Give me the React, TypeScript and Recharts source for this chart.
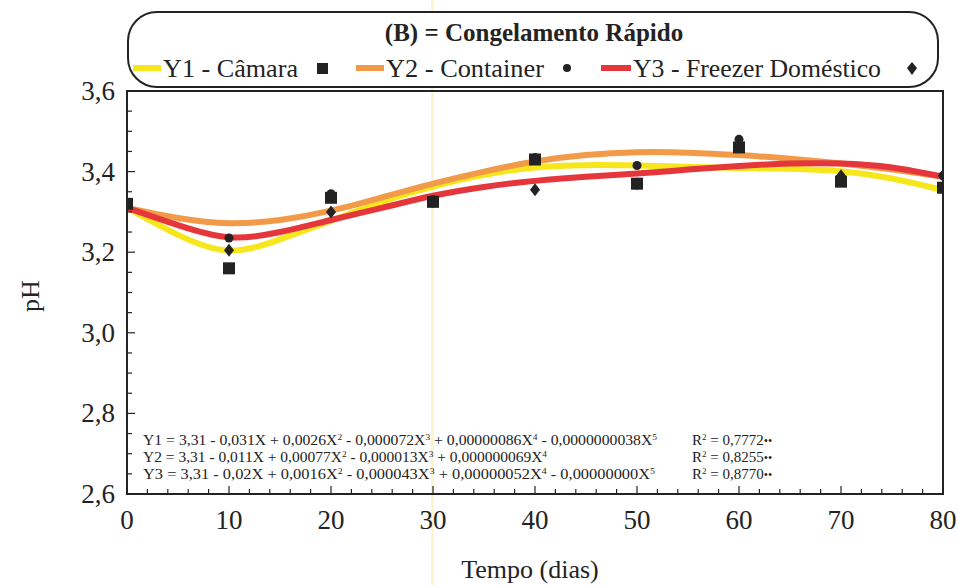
import { ComposedChart, Line, Scatter, XAxis, YAxis } from "recharts";

const days = [0, 10, 20, 30, 40, 50, 60, 70, 80];
const camaraPts = [3.32, 3.16, 3.335, 3.325, 3.43, 3.37, 3.46, 3.375, 3.36];
const containerPts = [3.32, 3.235, 3.345, 3.33, 3.435, 3.415, 3.48, 3.385, 3.39];
const freezerPts = [3.32, 3.205, 3.3, 3.325, 3.355, 3.37, 3.465, 3.39, 3.39];

// fitted curves, every 5 days
const fitDays = [0, 5, 10, 15, 20, 25, 30, 35, 40, 45, 50, 55, 60, 65, 70, 75, 80];
const y1Fit = [3.31, 3.243, 3.204, 3.232, 3.278, 3.325, 3.363, 3.392, 3.41, 3.416, 3.415, 3.412, 3.409, 3.407, 3.401, 3.383, 3.354];
const y2Fit = [3.31, 3.285, 3.272, 3.28, 3.303, 3.336, 3.37, 3.4, 3.425, 3.441, 3.448, 3.447, 3.441, 3.432, 3.42, 3.405, 3.387];
const y3Fit = [3.31, 3.267, 3.237, 3.25, 3.28, 3.31, 3.34, 3.362, 3.377, 3.387, 3.395, 3.405, 3.414, 3.42, 3.42, 3.41, 3.387];

const yTicks = [2.6, 2.65, 2.7, 2.75, 2.8, 2.85, 2.9, 2.95, 3.0, 3.05, 3.1, 3.15, 3.2, 3.25, 3.3, 3.35, 3.4, 3.45, 3.5, 3.55, 3.6];
const yLabels = ["2,6", "2,8", "3,0", "3,2", "3,4", "3,6"];
const xTicks = [0, 2, 4, 6, 8, 10, 12, 14, 16, 18, 20, 22, 24, 26, 28, 30, 32, 34, 36, 38, 40, 42, 44, 46, 48, 50, 52, 54, 56, 58, 60, 62, 64, 66, 68, 70, 72, 74, 76, 78, 80];
const xLabels = ["0", "10", "20", "30", "40", "50", "60", "70", "80"];

const FONT = '"Liberation Serif", "Times New Roman", serif';
const INK = "#232323";
const YELLOW = "#f6e61c";
const ORANGE = "#f29a48";
const RED = "#e4363b";

const fitData = fitDays.map((x, i) => ({ x, y1: y1Fit[i], y2: y2Fit[i], y3: y3Fit[i] }));
const toPts = (vals: number[]) => days.map((x, i) => ({ x, y: vals[i] }));

const fmt = (v: number) => v.toFixed(1).replace(".", ",");

function YTick(props: any) {
  const { x, y, payload } = props;
  const label = fmt(payload.value);
  const major = yLabels.includes(label) && Math.abs(payload.value * 10 - Math.round(payload.value * 10)) < 1e-6;
  return (
    <g>
      <line x1={x} x2={x + (major ? 8 : 5)} y1={y} y2={y} stroke={INK} strokeWidth={1.2} />
      {major && (
        <text x={x - 12} y={y + 9} textAnchor="end" fontFamily={FONT} fontSize={27} fill={INK}>
          {label}
        </text>
      )}
    </g>
  );
}

function XTick(props: any) {
  const { x, y, payload } = props;
  const label = String(payload.value);
  const major = xLabels.includes(label);
  return (
    <g>
      <line x1={x} x2={x} y1={y} y2={y - (major ? 8 : 5)} stroke={INK} strokeWidth={1.2} />
      {major && (
        <text x={x} y={y + 35} textAnchor="middle" fontFamily={FONT} fontSize={27} fill={INK}>
          {label}
        </text>
      )}
    </g>
  );
}

const Square = (p: any) => <rect x={p.cx - 6} y={p.cy - 6} width={12} height={12} fill={INK} />;
const Dot = (p: any) => <circle cx={p.cx} cy={p.cy} r={4.5} fill={INK} />;
const Diamond = (p: any) => (
  <path d={`M${p.cx},${p.cy - 6.5} L${p.cx + 5},${p.cy} L${p.cx},${p.cy + 6.5} L${p.cx - 5},${p.cy} Z`} fill={INK} />
);

// equation text: pieces alternate normal / superscript
function Eq({ y, parts, length }: { y: number; parts: [string, string][]; length: number }) {
  const spans: any[] = [];
  parts.forEach(([t, sup], i) => {
    spans.push(
      <tspan key={`t${i}`} dy={i === 0 ? 0 : 5} fontSize={15}>
        {t}
      </tspan>
    );
    spans.push(
      <tspan key={`s${i}`} dy={-5} fontSize={9}>
        {sup}
      </tspan>
    );
  });
  return (
    <text x={143} y={y} fontFamily={FONT} fill={INK} textLength={length} lengthAdjust="spacingAndGlyphs">
      {spans}
    </text>
  );
}

function R2({ y, value }: { y: number; value: string }) {
  return (
    <text x={692} y={y} fontFamily={FONT} fontSize={15} fill={INK}>
      <tspan>R</tspan>
      <tspan fontSize={9} dy={-5}>2</tspan>
      <tspan dy={5}>{` = ${value}`}</tspan>
      <tspan fontSize={12}>{"••"}</tspan>
    </text>
  );
}

export default function App() {
  return (
    <div style={{ position: "relative", width: 958, height: 585, background: "#fff", fontFamily: FONT, overflow: "hidden" }}>
      <style>{`body{margin:0}`}</style>
      <div style={{ position: "absolute", left: 431, top: 0, width: 3, height: 585, background: "#fcf6cf" }} />
      <ComposedChart
        width={958}
        height={585}
        margin={{ top: 91, right: 15, bottom: 51, left: 0 }}
        style={{ position: "absolute", left: 0, top: 0 }}
      >
        <XAxis
          type="number"
          dataKey="x"
          domain={[0, 80]}
          ticks={xTicks}
          interval={0}
          tickSize={0}
          tickMargin={0}
          height={40}
          axisLine={{ stroke: INK, strokeWidth: 2 }}
          tick={<XTick />}
          allowDataOverflow
        />
        <YAxis
          type="number"
          domain={[2.6, 3.6]}
          ticks={yTicks}
          interval={0}
          tickSize={0}
          tickMargin={0}
          width={127}
          axisLine={{ stroke: INK, strokeWidth: 2 }}
          tick={<YTick />}
          allowDataOverflow
        />
        <Line data={fitData} dataKey="y1" type="natural" stroke={YELLOW} strokeWidth={6} dot={false} isAnimationActive={false} />
        <Line data={fitData} dataKey="y2" type="natural" stroke={ORANGE} strokeWidth={6} dot={false} isAnimationActive={false} />
        <Line data={fitData} dataKey="y3" type="natural" stroke={RED} strokeWidth={6} dot={false} isAnimationActive={false} />
        <Scatter data={toPts(camaraPts)} dataKey="y" shape={Square} isAnimationActive={false} />
        <Scatter data={toPts(containerPts)} dataKey="y" shape={Dot} isAnimationActive={false} />
        <Scatter data={toPts(freezerPts)} dataKey="y" shape={Diamond} isAnimationActive={false} />
      </ComposedChart>

      {/* plot frame */}
      <div style={{ position: "absolute", left: 126, top: 90, width: 818, height: 405, border: `2px solid ${INK}`, boxSizing: "border-box", pointerEvents: "none" }} />

      {/* legend box */}
      <div style={{ position: "absolute", left: 127, top: 11, width: 812, height: 77, border: `2px solid ${INK}`, borderRadius: 30, boxSizing: "border-box", background: "#fff" }} />

      <svg width={958} height={585} style={{ position: "absolute", left: 0, top: 0, pointerEvents: "none" }}>
        <text x={534} y={41} textAnchor="middle" fontFamily={FONT} fontSize={25} fontWeight="bold" fill={INK}>
          (B) = Congelamento Rápido
        </text>
        <rect x={133} y={65} width={28} height={6} fill={YELLOW} />
        <text x={163} y={77} fontFamily={FONT} fontSize={26} fill={INK} textLength={135} lengthAdjust="spacingAndGlyphs">Y1 - Câmara</text>
        <rect x={317} y={63} width={11} height={11} fill={INK} />
        <rect x={356} y={65} width={28} height={6} fill={ORANGE} />
        <text x={386} y={77} fontFamily={FONT} fontSize={26} fill={INK} textLength={158} lengthAdjust="spacingAndGlyphs">Y2 - Container</text>
        <circle cx={567} cy={68} r={4} fill={INK} />
        <rect x={601} y={65} width={30} height={6} fill={RED} />
        <text x={633} y={77} fontFamily={FONT} fontSize={26} fill={INK} textLength={248} lengthAdjust="spacingAndGlyphs">Y3 - Freezer Doméstico</text>
        <path d="M912,62 L917,68 L912,75 L907,68 Z" fill={INK} />

        <Eq y={445} length={514} parts={[["Y1 = 3,31 - 0,031X + 0,0026X", "2"], [" - 0,000072X", "3"], [" + 0,00000086X", "4"], [" - 0,0000000038X", "5"]]} />
        <Eq y={462} length={404} parts={[["Y2 = 3,31 - 0,011X + 0,00077X", "2"], [" - 0,000013X", "3"], [" + 0,000000069X", "4"]]} />
        <Eq y={479} length={512} parts={[["Y3 = 3,31 - 0,02X + 0,0016X", "2"], [" - 0,000043X", "3"], [" + 0,00000052X", "4"], [" - 0,00000000X", "5"]]} />
        <R2 y={445} value="0,7772" />
        <R2 y={462} value="0,8255" />
        <R2 y={479} value="0,8770" />

        <text x={530} y={578} textAnchor="middle" fontFamily={FONT} fontSize={26} fill={INK}>Tempo (dias)</text>
        <text transform="translate(39,296) rotate(-90)" textAnchor="middle" fontFamily={FONT} fontSize={26} fill={INK}>pH</text>
      </svg>
    </div>
  );
}
